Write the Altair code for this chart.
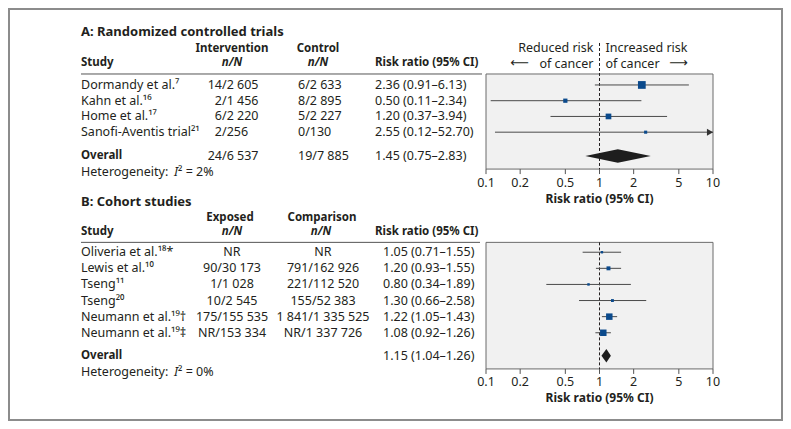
import altair as alt
import pandas as pd

# ---------------- data ----------------
a_study = ["Dormandy et al.⁷", "Kahn et al.¹⁶", "Home et al.¹⁷", "Sanofi-Aventis trial²¹"]
a_int_n = ["14", "2", "6", "2"]
a_int_N = ["2 605", "1 456", "2 220", "256"]
a_ctl = ["6/2 633", "8/2 895", "5/2 227", "0/130"]
a_rr = [2.36, 0.50, 1.20, 2.55]
a_lo = [0.91, 0.11, 0.37, 0.12]
a_hi = [6.13, 2.34, 3.94, 52.70]
a_weight = [50, 15, 27, 8]
a_overall_int = ("24", "6 537")
a_overall_ctl = "19/7 885"
a_overall = (1.45, 0.75, 2.83)
a_i2 = "2%"

b_study = ["Oliveria et al.¹⁸*", "Lewis et al.¹⁰", "Tseng¹¹", "Tseng²⁰",
           "Neumann et al.¹⁹†", "Neumann et al.¹⁹‡"]
b_exp = ["NR", "90/30 173", "1/1 028", "10/2 545", "175/155 535", "NR/153 334"]
b_cmp = ["NR", "791/162 926", "221/112 520", "155/52 383", "1 841/1 335 525", "NR/1 337 726"]
b_rr = [1.05, 1.20, 0.80, 1.30, 1.22, 1.08]
b_lo = [0.71, 0.93, 0.34, 0.66, 1.05, 0.92]
b_hi = [1.55, 1.55, 1.89, 2.58, 1.43, 1.26]
b_weight = [5, 13, 5, 7, 35, 35]
b_overall = (1.15, 1.04, 1.26)
b_i2 = "0%"

ticks = [0.1, 0.2, 0.5, 1, 2, 5, 10]
tick_labels = ["0.1", "0.2", "0.5", "1", "2", "5", "10"]
axis_title = "Risk ratio (95% CI)"

# ---------------- layout ----------------
W, H = 775, 413
LINE = 15.9
FONT = "Noto Sans"
INK = "#231f20"
BLUE = "#0b4a8c"
FS = 12.5
FSB = 11.5
YS = alt.Scale(domain=[0, H / LINE], range=[0, H])
X0, X1 = 478, 705

def fmt(rr, lo, hi):
    return f"{rr:.2f} ({lo:.2f}–{hi:.2f})"

def rows(start, n, step):
    return [start + i * step for i in range(n)]

a_rows = rows(4.84, len(a_study), 0.99)
a_over_y, a_het_y = 9.31, 10.30
b_rows = rows(15.36, len(b_study), 1.013)
b_over_y, b_het_y = 21.87, 22.87

items = {}
def add(key, t, x, y):
    items.setdefault(key, []).append({"t": t, "x": x, "y": y})

# section A
add("title", "A: Randomized controlled trials", 73, 1.49)
add("bold_c", "Intervention", 224, 2.60)
add("bold_c", "Control", 310, 2.60)
add("bold_l", "Study", 73, 3.48)
add("bold_l", "Risk ratio (95% CI)", 367, 3.48)
add("bi_c", "n/N", 224, 3.48)
add("bi_c", "n/N", 310, 3.48)
for i in range(len(a_study)):
    y = a_rows[i]
    add("reg_l", a_study[i], 73, y)
    add("reg_r", a_int_n[i], 214, y)
    add("reg_l", "/" + a_int_N[i], 214, y)
    add("reg_l", a_ctl[i], 290, y)
    add("reg_l", fmt(a_rr[i], a_lo[i], a_hi[i]), 367, y)
add("bold_l", "Overall", 73, a_over_y)
add("reg_r", a_overall_int[0], 214, a_over_y)
add("reg_l", "/" + a_overall_int[1], 214, a_over_y)
add("reg_l", a_overall_ctl, 290, a_over_y)
add("reg_l", fmt(*a_overall), 367, a_over_y)
add("reg_l", "Heterogeneity:", 73, a_het_y)
add("it_l", "I", 166, a_het_y)
add("reg_l", "² = " + a_i2, 170, a_het_y)

# section B
add("title", "B: Cohort studies", 73, 12.2)
add("bold_c", "Exposed", 222, 13.21)
add("bold_c", "Comparison", 314, 13.21)
add("bold_l", "Study", 73, 14.09)
add("bold_l", "Risk ratio (95% CI)", 367, 14.09)
add("bi_c", "n/N", 224, 14.09)
add("bi_c", "n/N", 313, 14.09)
for i in range(len(b_study)):
    y = b_rows[i]
    add("reg_l", b_study[i], 73, y)
    add("reg_c", b_exp[i], 224, y)
    add("reg_c", b_cmp[i], 315, y)
    add("reg_l", fmt(b_rr[i], b_lo[i], b_hi[i]), 375, y)
add("bold_l", "Overall", 73, b_over_y)
add("reg_l", fmt(*b_overall), 375, b_over_y)
add("reg_l", "Heterogeneity:", 73, b_het_y)
add("it_l", "I", 166, b_het_y)
add("reg_l", "² = " + b_i2, 170, b_het_y)

styles = {
    "title": dict(align="left", fontWeight="bold", fontSize=13),
    "bold_c": dict(align="center", fontWeight="bold", fontSize=FSB),
    "bold_l": dict(align="left", fontWeight="bold", fontSize=FSB),
    "bi_c": dict(align="center", fontWeight="bold", fontStyle="italic", fontSize=FSB),
    "reg_l": dict(align="left"),
    "reg_r": dict(align="right"),
    "reg_c": dict(align="center"),
    "it_l": dict(align="left", fontStyle="italic"),
}

def text_layer(key):
    st = dict(baseline="middle", font=FONT, fontSize=FS, color=INK)
    st.update(styles[key])
    return alt.Chart(pd.DataFrame(items[key])).mark_text(**st).encode(
        x=alt.X("x:Q", scale=None, axis=None),
        y=alt.Y("y:Q", scale=YS, axis=None),
        text="t:N",
    )

texts = [text_layer(k) for k in items]

# header underline rules
hdr = pd.DataFrame({"x": [73, 73], "x2": [474, 472], "y": [4.15, 14.74]})
hdr_rule = alt.Chart(hdr).mark_rule(color="#555", strokeWidth=1).encode(
    x=alt.X("x:Q", scale=None, axis=None), x2="x2:Q",
    y=alt.Y("y:Q", scale=YS, axis=None))

# outer frame
frame = alt.Chart(pd.DataFrame({"a": [0]})).mark_rect(
    filled=False, stroke="#8c8c8c", strokeWidth=2).encode(
    x=alt.value(1), x2=alt.value(W - 1), y=alt.value(1), y2=alt.value(H - 1))

TICK = 5 / LINE
LAB = 13.5 / LINE
TTL = 29.5 / LINE


def forest(rr, lo, hi, w, ys, overall, top, bottom, dash_top, extra=None):
    XS = alt.Scale(type="log", domain=[0.1, 10], range=[X0, X1])
    df = pd.DataFrame({"rr": rr, "lo": lo, "hi": hi, "w": w, "y": ys})
    df["lo_c"] = df["lo"].clip(lower=0.1)
    df["hi_c"] = df["hi"].clip(upper=10)
    box = alt.Chart(pd.DataFrame({"a": [0.1], "b": [10], "t": [top], "u": [bottom]})).mark_rect(
        fill="#f1f1f1", stroke="#6b6b6b", strokeWidth=1).encode(
        x=alt.X("a:Q", scale=XS, axis=None), x2="b:Q",
        y=alt.Y("t:Q", scale=YS, axis=None), y2="u:Q")
    tk = pd.DataFrame({"v": ticks, "lab": tick_labels})
    tk["t"] = bottom
    tk["u"] = bottom + TICK
    tk["ly"] = bottom + LAB
    tick_rules = alt.Chart(tk).mark_rule(color="#555", strokeWidth=1).encode(
        x=alt.X("v:Q", scale=XS, axis=None),
        y=alt.Y("t:Q", scale=YS, axis=None), y2="u:Q")
    tick_text = alt.Chart(tk).mark_text(
        align="center", baseline="middle", font=FONT, fontSize=FS, color=INK).encode(
        x=alt.X("v:Q", scale=XS, axis=None),
        y=alt.Y("ly:Q", scale=YS, axis=None), text="lab:N")
    # axis title centred on the log range (geometric mid of 0.1..10)
    ttl = alt.Chart(pd.DataFrame({"v": [(0.1 * 10) ** 0.5], "y": [bottom + TTL], "t": [axis_title]})).mark_text(
        align="center", baseline="middle", font=FONT, fontSize=FSB + 0.5, fontWeight="bold", color=INK).encode(
        x=alt.X("v:Q", scale=XS, axis=None),
        y=alt.Y("y:Q", scale=YS, axis=None), text="t:N")
    dash = alt.Chart(pd.DataFrame({"v": [1], "t": [dash_top], "u": [bottom]})).mark_rule(
        color=INK, strokeDash=[3, 2], strokeWidth=1).encode(
        x=alt.X("v:Q", scale=XS, axis=None),
        y=alt.Y("t:Q", scale=YS, axis=None), y2="u:Q")
    ci = alt.Chart(df).mark_rule(color="#4a4a4a", strokeWidth=1).encode(
        x=alt.X("lo_c:Q", scale=XS, axis=None), x2="hi_c:Q",
        y=alt.Y("y:Q", scale=YS, axis=None))
    arrow = alt.Chart(df).transform_filter("datum.hi > 10").mark_point(
        shape="triangle-right", filled=True, size=50, color="#333", opacity=1, xOffset=-3).encode(
        x=alt.X("hi_c:Q", scale=XS, axis=None),
        y=alt.Y("y:Q", scale=YS, axis=None))
    sq = alt.Chart(df).mark_square(color=BLUE, opacity=1).encode(
        x=alt.X("rr:Q", scale=XS, axis=None),
        y=alt.Y("y:Q", scale=YS, axis=None),
        size=alt.Size("w:Q", scale=alt.Scale(domain=[0, 50], range=[0, 60]), legend=None))
    est, dlo, dhi, dy = overall
    h = 0.42
    dia = pd.DataFrame({"x": [dlo, est, dhi], "y": [dy, dy - h, dy], "y2": [dy, dy + h, dy]})
    diamond = alt.Chart(dia).mark_area(color="#1e1e1e", orient="vertical", interpolate="linear").encode(
        x=alt.X("x:Q", scale=XS, axis=None),
        y=alt.Y("y:Q", scale=YS, axis=None, stack=None), y2="y2:Q")
    layers = [box, tick_rules, tick_text, ttl, dash, ci, arrow, sq, diamond]
    if extra is not None:
        for t, dx, align, yy, font, fs in extra:
            layers.append(alt.Chart(pd.DataFrame({"one": [1], "y": [yy], "t": [t]})).mark_text(
                align=align, baseline="middle", dx=dx, font=font, fontSize=fs, color=INK).encode(
                x=alt.X("one:Q", scale=XS, axis=None),
                y=alt.Y("y:Q", scale=YS, axis=None), text="t:N"))
    return alt.layer(*layers)

extraA = [
    ("Reduced risk", -6, "right", 2.54, FONT, FS),
    ("of cancer", -6, "right", 3.50, FONT, FS),
    ("Increased risk", 6, "left", 2.54, FONT, FS),
    ("of cancer", 6, "left", 3.50, FONT, FS),
    ("⟵", -80, "center", 3.46, "DejaVu Sans", 13),
    ("⟶", 79, "center", 3.46, "DejaVu Sans", 13),
]

groupA = forest(a_rr, a_lo, a_hi, a_weight, a_rows, (*a_overall, a_over_y),
                4.15, 10.13, 2.2, extraA)
groupB = forest(b_rr, b_lo, b_hi, b_weight, b_rows, (*b_overall, b_over_y),
                14.74, 22.70, 14.74)

chart = alt.layer(frame, *texts, hdr_rule, groupA, groupB).resolve_scale(x="independent").properties(
    width=W, height=H, padding=0, autosize=alt.AutoSizeParams(type="none")
).configure_view(stroke=None).configure(background="white")

chart.save("out.html", embed_options={"renderer": "svg", "actions": False})
